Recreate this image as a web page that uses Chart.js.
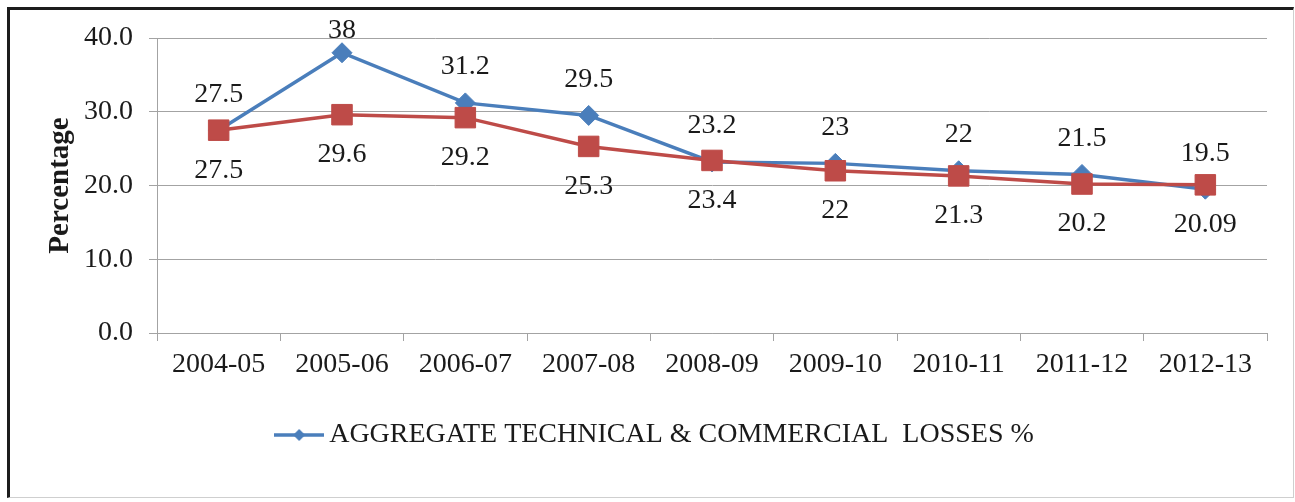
<!DOCTYPE html>
<html>
<head>
<meta charset="utf-8">
<title>AT&C losses</title>
<script src="https://cdn.jsdelivr.net/npm/chart.js@4.4.1/dist/chart.umd.min.js"></script>
<style>
  html, body { margin: 0; padding: 0; background: #fff; }
  #frame {
    position: absolute; left: 7px; top: 7px; width: 1287px; height: 491px;
    box-sizing: border-box;
    border-left: 3px solid #1c1c1c; border-top: 3px solid #1c1c1c;
    border-right: 1px solid #cfcfcf; border-bottom: 1px solid #cfcfcf;
  }
  #chart { position: absolute; left: 0; top: 0; }
</style>
</head>
<body>
<div id="frame"></div>
<canvas id="chart" width="1295" height="502"></canvas>
<script>
// values
const years = ['2004-05', '2005-06', '2006-07', '2007-08', '2008-09', '2009-10', '2010-11', '2011-12', '2012-13'];
const atcLosses = [27.5, 38, 31.2, 29.5, 23.2, 23, 22, 21.5, 19.5];
const tdLosses = [27.5, 29.6, 29.2, 25.3, 23.4, 22, 21.3, 20.2, 20.09];

const blue = '#4A7EBB';
const red = '#BE4B48';
const gridGray = '#a3a3a3';
const textColor = '#1a1a1a';
const serif = '"Liberation Serif", "Times New Roman", serif';
const fontSize = 28;

// legend symbol: line with a diamond in the middle
const legendMark = document.createElement('canvas');
legendMark.width = 50;
legendMark.height = 16;
const lc = legendMark.getContext('2d');
lc.strokeStyle = blue;
lc.lineWidth = 3.5;
lc.beginPath(); lc.moveTo(0, 8); lc.lineTo(50, 8); lc.stroke();
lc.fillStyle = blue;
lc.beginPath(); lc.moveTo(25, 2); lc.lineTo(31, 8); lc.lineTo(25, 14); lc.lineTo(19, 8); lc.closePath(); lc.fill();

// value labels above / below each point
const pointLabels = {
  id: 'pointLabels',
  afterDatasetsDraw(chart, args, opts) {
    const ctx = chart.ctx;
    ctx.save();
    ctx.font = fontSize + 'px ' + serif;
    ctx.fillStyle = textColor;
    ctx.textAlign = 'center';
    ctx.textBaseline = 'middle';
    chart.data.datasets.forEach((ds, i) => {
      const meta = chart.getDatasetMeta(i);
      meta.data.forEach((pt, j) => {
        let y = pt.y + ds.labelShift;
        if (y < opts.minY) y = opts.minY;
        ctx.fillText(String(ds.data[j]), pt.x, y);
      });
    });
    ctx.restore();
  }
};

new Chart(document.getElementById('chart').getContext('2d'), {
  type: 'line',
  data: {
    labels: years,
    datasets: [
      {
        label: 'AGGREGATE TECHNICAL & COMMERCIAL  LOSSES %',
        data: atcLosses,
        borderColor: blue,
        backgroundColor: blue,
        borderWidth: 3.5,
        pointStyle: 'rectRot',
        pointRadius: 10,
        pointBorderWidth: 1,
        pointBackgroundColor: blue,
        pointBorderColor: blue,
        tension: 0,
        order: 1,
        clip: false,
        labelShift: -36
      },
      {
        label: 'T&D LOSSES %',
        data: tdLosses,
        borderColor: red,
        backgroundColor: red,
        borderWidth: 3.5,
        pointStyle: 'rect',
        pointRadius: 14.5,
        pointBorderWidth: 1,
        pointBackgroundColor: red,
        pointBorderColor: red,
        tension: 0,
        order: 0,
        clip: false,
        labelShift: 40
      }
    ]
  },
  options: {
    responsive: false,
    animation: false,
    devicePixelRatio: 1,
    layout: {
      padding: { left: 50, right: 28, top: 38, bottom: 43 }
    },
    plugins: {
      tooltip: { enabled: false },
      pointLabels: { minY: 31 },
      legend: {
        position: 'bottom',
        labels: {
          usePointStyle: true,
          pointStyleWidth: 32,
          padding: 28,
          color: textColor,
          font: { family: serif, size: fontSize },
          generateLabels(chart) {
            const items = Chart.defaults.plugins.legend.labels.generateLabels(chart);
            return items
              .filter(it => it.datasetIndex === 0)
              .map(it => Object.assign(it, { pointStyle: legendMark }));
          }
        }
      }
    },
    scales: {
      x: {
        offset: true,
        grid: {
          display: true,
          offset: true,
          drawOnChartArea: false,
          drawTicks: true,
          tickLength: 8,
          color: gridGray
        },
        border: { display: true, color: gridGray },
        ticks: {
          color: textColor,
          font: { family: serif, size: fontSize },
          padding: 7,
          maxRotation: 0,
          autoSkip: false
        },
        afterFit(scale) { scale.height = 60; }
      },
      y: {
        min: 0,
        max: 40,
        ticks: {
          stepSize: 10,
          color: textColor,
          font: { family: serif, size: fontSize },
          padding: 16,
          callback: v => v.toFixed(1)
        },
        grid: { color: gridGray, tickLength: 8 },
        border: { display: true, color: gridGray },
        title: {
          display: true,
          text: 'Percentage',
          color: textColor,
          font: { family: serif, size: 29, weight: 'bold', lineHeight: 1 },
          padding: { top: -4, bottom: 0 }
        },
        afterFit(scale) { scale.width = 107; }
      }
    }
  },
  plugins: [pointLabels]
});
</script>
</body>
</html>
